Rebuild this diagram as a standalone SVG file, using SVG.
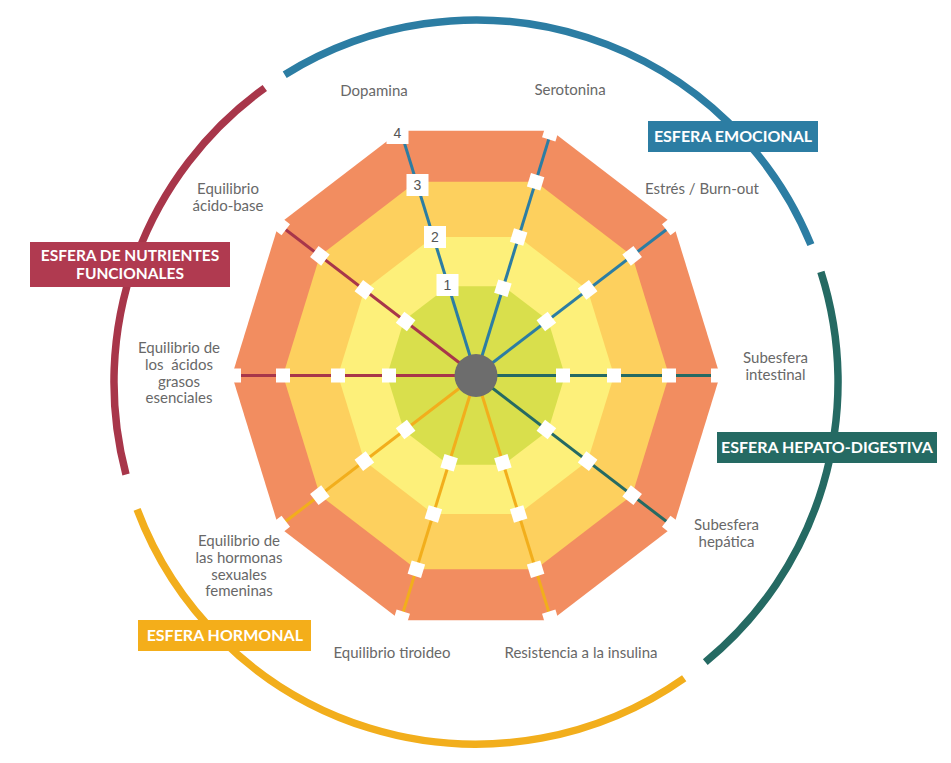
<svg xmlns="http://www.w3.org/2000/svg" xmlns:xlink="http://www.w3.org/1999/xlink" width="951" height="763" viewBox="0 0 951 763">
<style>
.lbl{font-family:Lato,"Open Sans","Liberation Sans",sans-serif;font-size:15px;fill:#686868;text-anchor:middle}
.hd{font-family:Lato,"Open Sans","Liberation Sans",sans-serif;font-size:16px;font-weight:bold;fill:#ffffff;text-anchor:middle}
.hd2{font-size:15.5px}
.num{font-family:"Liberation Sans",Arial,sans-serif;font-size:14px;fill:#555555;text-anchor:middle}
.arc{fill:none;stroke-width:7.5}
.ax{stroke-width:3;fill:none}
.blue{stroke:#2c7da3}
.teal{stroke:#256a63}
.gold{stroke:#f2ae1c}
.red{stroke:#a8364a}
</style>
<defs>
<rect id="sq" x="-7" y="-7" width="14" height="14" fill="#ffffff"/>
<rect id="nb" x="-11" y="-11" width="22" height="22" fill="#ffffff"/>
</defs>
<rect width="951" height="763" fill="#ffffff"/>

<g id="rings">
<polygon fill="#f28d60" points="720,375.5 673.4,224.19 551.4,130.68 400.6,130.68 278.6,224.19 232,375.5 278.6,526.81 400.6,620.32 551.4,620.32 673.4,526.81"/>
<polygon fill="#fdd05e" points="669,375.5 632.14,255.82 535.64,181.85 416.36,181.85 319.86,255.82 283,375.5 319.86,495.18 416.36,569.15 535.64,569.15 632.14,495.18"/>
<polygon fill="#fdf07a" points="614,375.5 587.64,289.92 518.64,237.03 433.36,237.03 364.36,289.92 338,375.5 364.36,461.08 433.36,513.97 518.64,513.97 587.64,461.08"/>
<polygon fill="#d9df4c" points="565,375.5 548,320.31 503.5,286.2 448.5,286.2 404,320.31 387,375.5 404,430.69 448.5,464.8 503.5,464.8 548,430.69"/>
</g>

<g id="connectors">
<line class="ax blue" x1="476" y1="375.5" x2="673.4" y2="224.19"/>
<line class="ax blue" x1="476" y1="375.5" x2="551.4" y2="130.68"/>
<line class="ax blue" x1="476" y1="375.5" x2="400.6" y2="130.68"/>
<line class="ax teal" x1="476" y1="375.5" x2="720" y2="375.5"/>
<line class="ax teal" x1="476" y1="375.5" x2="673.4" y2="526.81"/>
<line class="ax gold" x1="476" y1="375.5" x2="551.4" y2="620.32"/>
<line class="ax gold" x1="476" y1="375.5" x2="400.6" y2="620.32"/>
<line class="ax gold" x1="476" y1="375.5" x2="278.6" y2="526.81"/>
<line class="ax red" x1="476" y1="375.5" x2="232" y2="375.5"/>
<line class="ax red" x1="476" y1="375.5" x2="278.6" y2="224.19"/>
</g>

<g id="center"><circle cx="476" cy="375.5" r="21.5" fill="#6d6d6d"/></g>

<g id="ticks">
<use xlink:href="#sq" href="#sq" transform="translate(563,375.5)"/>
<use xlink:href="#sq" href="#sq" transform="translate(614,375.5)"/>
<use xlink:href="#sq" href="#sq" transform="translate(669,375.5)"/>
<use xlink:href="#sq" href="#sq" transform="translate(718,375.5)"/>
<use xlink:href="#sq" href="#sq" transform="translate(546.38,321.55) rotate(-37.47)"/>
<use xlink:href="#sq" href="#sq" transform="translate(587.64,289.92) rotate(-37.47)"/>
<use xlink:href="#sq" href="#sq" transform="translate(632.14,255.82) rotate(-37.47)"/>
<use xlink:href="#sq" href="#sq" transform="translate(671.78,225.43) rotate(-37.47)"/>
<use xlink:href="#sq" href="#sq" transform="translate(502.88,288.21) rotate(17.12)"/>
<use xlink:href="#sq" href="#sq" transform="translate(518.64,237.03) rotate(17.12)"/>
<use xlink:href="#sq" href="#sq" transform="translate(535.64,181.85) rotate(17.12)"/>
<use xlink:href="#sq" href="#sq" transform="translate(550.78,132.68) rotate(17.12)"/>
<use xlink:href="#sq" href="#sq" transform="translate(405.62,321.55) rotate(37.47)"/>
<use xlink:href="#sq" href="#sq" transform="translate(364.36,289.92) rotate(37.47)"/>
<use xlink:href="#sq" href="#sq" transform="translate(319.86,255.82) rotate(37.47)"/>
<use xlink:href="#sq" href="#sq" transform="translate(280.22,225.43) rotate(37.47)"/>
<use xlink:href="#sq" href="#sq" transform="translate(389,375.5)"/>
<use xlink:href="#sq" href="#sq" transform="translate(338,375.5)"/>
<use xlink:href="#sq" href="#sq" transform="translate(283,375.5)"/>
<use xlink:href="#sq" href="#sq" transform="translate(234,375.5)"/>
<use xlink:href="#sq" href="#sq" transform="translate(405.62,429.45) rotate(-37.47)"/>
<use xlink:href="#sq" href="#sq" transform="translate(364.36,461.08) rotate(-37.47)"/>
<use xlink:href="#sq" href="#sq" transform="translate(319.86,495.18) rotate(-37.47)"/>
<use xlink:href="#sq" href="#sq" transform="translate(280.22,525.57) rotate(-37.47)"/>
<use xlink:href="#sq" href="#sq" transform="translate(449.12,462.79) rotate(17.12)"/>
<use xlink:href="#sq" href="#sq" transform="translate(433.36,513.97) rotate(17.12)"/>
<use xlink:href="#sq" href="#sq" transform="translate(416.36,569.15) rotate(17.12)"/>
<use xlink:href="#sq" href="#sq" transform="translate(401.22,618.32) rotate(17.12)"/>
<use xlink:href="#sq" href="#sq" transform="translate(502.88,462.79) rotate(-17.12)"/>
<use xlink:href="#sq" href="#sq" transform="translate(518.64,513.97) rotate(-17.12)"/>
<use xlink:href="#sq" href="#sq" transform="translate(535.64,569.15) rotate(-17.12)"/>
<use xlink:href="#sq" href="#sq" transform="translate(550.78,618.32) rotate(-17.12)"/>
<use xlink:href="#sq" href="#sq" transform="translate(546.38,429.45) rotate(37.47)"/>
<use xlink:href="#sq" href="#sq" transform="translate(587.64,461.08) rotate(37.47)"/>
<use xlink:href="#sq" href="#sq" transform="translate(632.14,495.18) rotate(37.47)"/>
<use xlink:href="#sq" href="#sq" transform="translate(671.78,525.57) rotate(37.47)"/>
</g>

<g id="scale">
<use xlink:href="#nb" href="#nb" transform="translate(447.5,285)"/>
<text class="num" x="447.5" y="290">1</text>
<use xlink:href="#nb" href="#nb" transform="translate(435,237)"/>
<text class="num" x="435" y="242">2</text>
<use xlink:href="#nb" href="#nb" transform="translate(417.5,185)"/>
<text class="num" x="417.5" y="190">3</text>
<use xlink:href="#nb" href="#nb" transform="translate(397.5,133)"/>
<text class="num" x="397.5" y="138">4</text>
</g>

<g id="spheres">
<path class="arc blue" d="M284.7,74.7 A362,362 0 0 1 810.9,244.6"/>
<path class="arc teal" d="M820.9,271.9 A362,362 0 0 1 705.3,662.1"/>
<path class="arc gold" d="M684.2,678.2 A362,362 0 0 1 137.1,509.4"/>
<path class="arc red" d="M126,474.5 A362,362 0 0 1 264.8,88"/>
</g>

<g id="sphere-emocional">
<rect x="648" y="121" width="170" height="31" fill="#2c7da3"/>
<text class="hd" x="733" y="142">ESFERA EMOCIONAL</text>
</g>
<g id="sphere-hepato">
<rect x="717" y="432" width="220" height="31" fill="#256a63"/>
<text class="hd" x="827" y="453.3">ESFERA HEPATO-DIGESTIVA</text>
</g>
<g id="sphere-nutrientes">
<rect x="30" y="242" width="200" height="45" fill="#b03a50"/>
<text class="hd hd2" x="130" y="260.5">ESFERA DE NUTRIENTES<tspan x="130" dy="18.5">FUNCIONALES</tspan></text>
</g>
<g id="sphere-hormonal">
<rect x="138" y="620" width="173" height="31" fill="#f4ae1a"/>
<text class="hd" x="224.8" y="640.7">ESFERA HORMONAL</text>
</g>

<g id="label-dopamina"><text class="lbl" x="374" y="96">Dopamina</text></g>
<g id="label-serotonina"><text class="lbl" x="570" y="95">Serotonina</text></g>
<g id="label-estres"><text class="lbl" x="702" y="194">Estrés / Burn-out</text></g>
<g id="label-intestinal"><text class="lbl" x="775.5" y="363">Subesfera<tspan x="775.5" dy="17">intestinal</tspan></text></g>
<g id="label-hepatica"><text class="lbl" x="726.5" y="530">Subesfera<tspan x="726.5" dy="17">hepática</tspan></text></g>
<g id="label-insulina"><text class="lbl" x="581" y="658">Resistencia a la insulina</text></g>
<g id="label-tiroideo"><text class="lbl" x="392" y="658">Equilibrio tiroideo</text></g>
<g id="label-sexuales"><text class="lbl" x="239" y="546">Equilibrio de<tspan x="239" dy="17">las hormonas</tspan><tspan x="239" dy="16.5">sexuales</tspan><tspan x="239" dy="16.5">femeninas</tspan></text></g>
<g id="label-grasos"><text class="lbl" x="179" y="353" style="white-space:pre">Equilibrio de<tspan x="179" dy="16.5">los  ácidos</tspan><tspan x="179" dy="17">grasos</tspan><tspan x="179" dy="16.5">esenciales</tspan></text></g>
<g id="label-acidobase"><text class="lbl" x="228" y="194">Equilibrio<tspan x="228" dy="17">ácido-base</tspan></text></g>
</svg>
